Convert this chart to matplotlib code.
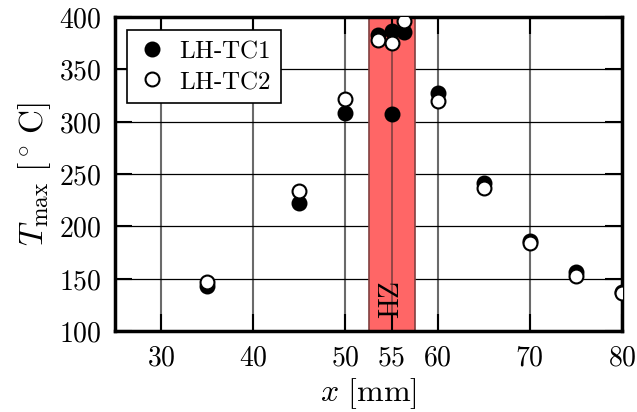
import matplotlib
matplotlib.use('Agg')
import matplotlib.pyplot as plt

#fonts
plt.rcParams['mathtext.fontset'] = 'cm'
plt.rcParams['font.family'] = 'serif'
plt.rcParams['font.serif'] = ['DejaVu Serif']

#data
x_tc1 = [35, 45, 50, 53.5, 55, 55, 56.3, 60, 65, 70, 75, 80]
t_tc1 = [143, 222, 308, 383, 387, 307, 386, 327, 241, 186, 156, 137]
x_tc2 = [35, 45, 50, 53.5, 55, 56.3, 60, 65, 70, 75, 80]
t_tc2 = [147, 234, 322, 378, 375, 396, 320, 237, 184, 153, 136]
xticks = [30, 40, 50, 55, 60, 70, 80]
yticks = [100, 150, 200, 250, 300, 350, 400]
hz_lo, hz_hi = 52.5, 57.5

fig = plt.figure(figsize=(6.37, 4.12), dpi=100)
ax = fig.add_axes([0.1805, 0.1966, 0.796, 0.7621])

#grid
for xv in xticks:
    ax.axvline(xv, color='#6a6a6a', lw=1.5, zorder=0)
for yv in yticks:
    ax.axhline(yv, color='k', lw=0.9, zorder=0)

#heat zone
ax.axvspan(hz_lo, hz_hi, facecolor='#ff6666', edgecolor='#804040', lw=1.2, zorder=1)
ax.axvline(55, color='#804040', lw=1.2, zorder=1.1)
ax.text(55, 130, r'$\mathrm{HZ}$', rotation=90, ha='center', va='center', fontsize=20, zorder=2)

#points
ax.plot(x_tc1, t_tc1, 'o', ms=10, mfc='k', mec='k', mew=1.5, label=r'$\mathrm{LH\text{-}TC1}$', zorder=3)
ax.plot(x_tc2, t_tc2, 'o', ms=10, mfc='w', mec='k', mew=1.5, label=r'$\mathrm{LH\text{-}TC2}$', zorder=4)

ax.set_xlim(25, 80)
ax.set_ylim(100, 400)
ax.set_xticks(xticks)
ax.set_xticklabels([f'${v}$' for v in xticks], fontsize=20)
ax.set_yticks(yticks)
ax.set_yticklabels([f'${v}$' for v in yticks], fontsize=20)
ax.tick_params(direction='in', length=12, width=1.5, pad=10, top=True, right=True)

for s in ax.spines.values():
    s.set_linewidth(2.5)

ax.set_xlabel(r'$x\ [\mathrm{mm}]$', fontsize=23, labelpad=3)
ax.set_ylabel(r'$T_{\mathrm{max}}\ [^\circ\,\mathrm{C}]$', fontsize=24, labelpad=4)

leg = ax.legend(loc='upper left', fontsize=18, fancybox=False, edgecolor='k', framealpha=1,
                handletextpad=0.45, borderaxespad=0.5, borderpad=0.4, labelspacing=0.3,
                handlelength=1.2, numpoints=1)
leg.get_frame().set_linewidth(1.2)
leg.set_zorder(10)

fig.savefig('out.png', dpi=100)
